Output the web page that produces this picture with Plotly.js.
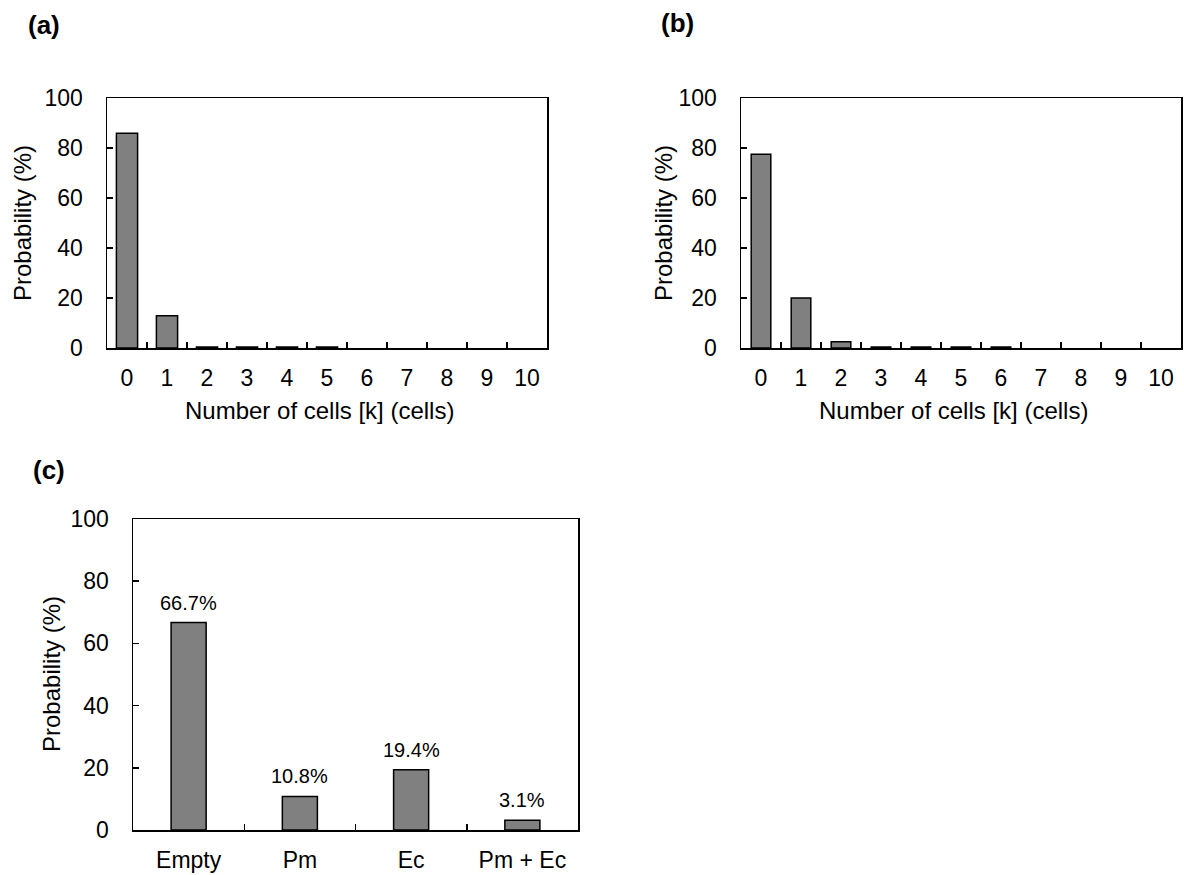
<!DOCTYPE html>
<html>
<head>
<meta charset="utf-8">
<script src="https://cdn.plot.ly/plotly-3.0.1.min.js"></script>
<style>html,body{margin:0;padding:0;background:#fff;}#chart{width:1184px;height:875px;}</style>
</head>
<body>
<div id="chart"></div>
<script>
// ---- data ----
var cellCounts = ['0','1','2','3','4','5','6','7','8','9','10'];
var probA = [85.9, 12.9, 0.4, 0.4, 0.4, 0.4, 0, 0, 0, 0, 0];
var probB = [77.5, 20.0, 2.5, 0.4, 0.4, 0.4, 0.4, 0, 0, 0, 0];
var groupsC = ['Empty', 'Pm', 'Ec', 'Pm + Ec'];
var probC = [66.7, 10.8, 19.4, 3.1];
var labelsC = ['66.7%', '10.8%', '19.4%', '3.1%'];
var panelLabels = ['(a)', '(b)', '(c)'];
var yTitle = 'Probability (%)';
var xTitleAB = 'Number of cells [k] (cells)';

// ---- styling ----
var W = 1184, H = 875;
var FONT = 'Liberation Sans, Arial, sans-serif';
var px = function(x){ return x / W; };
var py = function(y){ return 1 - y / H; };

function bar(x, y, xa, ya, w) {
  return {type: 'bar', x: x, y: y, xaxis: xa, yaxis: ya, width: w,
          marker: {color: '#808080',
                   line: {color: '#000', width: y.map(function(v){ return v > 0 ? 1.5 : 0; })}},
          hoverinfo: 'skip', showlegend: false};
}

var traces = [
  bar(cellCounts, probA, 'x', 'y', 0.53),
  bar(cellCounts, probB, 'x2', 'y2', 0.49),
  bar(groupsC, probC, 'x3', 'y3', 0.315)
];

function xAxis(domain, anchor) {
  return {domain: domain, anchor: anchor, type: 'category',
          showline: true, mirror: true, linecolor: '#000', linewidth: 1.5,
          ticks: 'inside', tickson: 'boundaries', ticklen: 6, tickwidth: 1.5, tickcolor: '#000',
          ticklabelstandoff: 9,
          showgrid: false, zeroline: false, fixedrange: true,
          tickfont: {family: FONT, size: 23, color: '#000'}};
}
function yAxis(domain, anchor) {
  return {domain: domain, anchor: anchor, range: [0, 100], dtick: 20,
          showline: true, mirror: true, linecolor: '#000', linewidth: 1.5,
          ticks: 'inside', ticklen: 6, tickwidth: 1.5, tickcolor: '#000',
          ticklabelstandoff: 18,
          showgrid: false, zeroline: false, fixedrange: true,
          tickfont: {family: FONT, size: 23, color: '#000'}};
}

var annotations = [];
function ann(text, x, y, size, bold, rot) {
  annotations.push({text: bold ? '<b>' + text + '</b>' : text, xref: 'paper', yref: 'paper',
    x: px(x), y: py(y), xanchor: 'center', yanchor: 'middle', showarrow: false,
    textangle: rot || 0, font: {family: FONT, size: size, color: '#000'}});
}
ann(panelLabels[0], 44, 25, 26, true);
ann(panelLabels[1], 677, 23, 26, true);
ann(panelLabels[2], 49, 470, 26, true);
ann(yTitle, 22, 223, 24, false, -90);
ann(yTitle, 663, 223, 24, false, -90);
ann(yTitle, 51, 674, 24, false, -90);
ann(xTitleAB, 319, 410, 24, false);
ann(xTitleAB, 953, 410, 24, false);

for (var i = 0; i < groupsC.length; i++) {
  annotations.push({text: labelsC[i], x: groupsC[i], y: probC[i], xref: 'x3', yref: 'y3',
    xanchor: 'center', yanchor: 'bottom', yshift: 7, showarrow: false,
    font: {family: FONT, size: 20, color: '#000'}});
}

var layout = {
  width: W, height: H,
  margin: {l: 0, r: 0, t: 0, b: 0},
  paper_bgcolor: '#fff', plot_bgcolor: '#fff',
  font: {family: FONT, color: '#000'},
  showlegend: false,
  xaxis: xAxis([px(107), px(547)], 'y'),
  yaxis: yAxis([py(348), py(98)], 'x'),
  xaxis2: xAxis([px(741), px(1181)], 'y2'),
  yaxis2: yAxis([py(348), py(98)], 'x2'),
  xaxis3: xAxis([px(133), px(578)], 'y3'),
  yaxis3: yAxis([py(830), py(519)], 'x3'),
  annotations: annotations
};

Plotly.newPlot('chart', traces, layout, {displayModeBar: false, staticPlot: true});
</script>
</body>
</html>
